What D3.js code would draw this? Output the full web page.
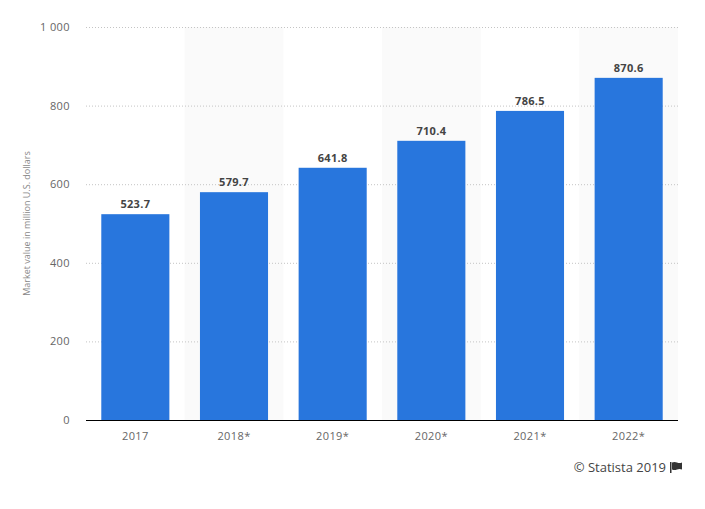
<!DOCTYPE html>
<html>
<head>
<meta charset="utf-8">
<script src="https://cdn.jsdelivr.net/npm/d3@7"></script>
<style>
  body { margin: 0; background: #fff; }
  svg { font-family: "Open Sans", "DejaVu Sans", sans-serif; }
</style>
</head>
<body>
<svg id="chart" width="705" height="509"></svg>
<script>
const years = ["2017", "2018*", "2019*", "2020*", "2021*", "2022*"]
const marketValues = [523.7, 579.7, 641.8, 710.4, 786.5, 870.6]
const yTicks = [0, 200, 400, 600, 800, 1000]

const LEFT = 86
const RIGHT = 678
const TOP = 27
const BOTTOM = 420

const svg = d3.select('svg#chart')

const xScale = d3.scaleBand()
  .domain(years)
  .range([LEFT, RIGHT])
  .paddingInner(0.31)
  .paddingOuter(0.155)

const bandScale = d3.scaleBand()
  .domain(years)
  .range([LEFT, RIGHT])

const yScale = d3.scaleLinear()
  .domain([0, 1000])
  .range([BOTTOM, TOP])

// alternating shaded columns
svg.append('g')
  .selectAll('rect')
  .data(years.filter((d, i) => i % 2 === 1))
  .enter()
  .append('rect')
  .attr('x', d => bandScale(d))
  .attr('y', TOP)
  .attr('width', bandScale.bandwidth())
  .attr('height', BOTTOM - TOP)
  .attr('fill', '#fafafa')

// gridlines
svg.append('g')
  .selectAll('line')
  .data(yTicks.filter(d => d > 0))
  .enter()
  .append('line')
  .attr('x1', LEFT)
  .attr('x2', RIGHT)
  .attr('y1', d => yScale(d) + 0.5)
  .attr('y2', d => yScale(d) + 0.5)
  .attr('stroke', '#c4c4c4')
  .attr('stroke-dasharray', '1,2')

// y tick labels
const fmt = d => d >= 1000 ? d3.format(',')(d).replace(',', ' ') : String(d)
svg.append('g')
  .selectAll('text')
  .data(yTicks)
  .enter()
  .append('text')
  .attr('x', 70)
  .attr('y', d => yScale(d) + 4)
  .attr('text-anchor', 'end')
  .attr('font-size', '11px')
  .attr('letter-spacing', '0.4px')
  .attr('fill', '#666')
  .text(fmt)

// bars
svg.append('g')
  .selectAll('rect')
  .data(marketValues)
  .enter()
  .append('rect')
  .attr('x', (d, i) => xScale(years[i]))
  .attr('y', d => yScale(d))
  .attr('width', xScale.bandwidth())
  .attr('height', d => BOTTOM - yScale(d))
  .attr('fill', '#2876dd')

// value labels
svg.append('g')
  .selectAll('text')
  .data(marketValues)
  .enter()
  .append('text')
  .attr('x', (d, i) => xScale(years[i]) + xScale.bandwidth() / 2)
  .attr('y', d => yScale(d) - 6)
  .attr('text-anchor', 'middle')
  .attr('font-size', '11px')
  .attr('font-weight', 'bold')
  .attr('letter-spacing', '0.3px')
  .attr('fill', '#444')
  .text(d => d.toFixed(1))

// baseline
svg.append('line')
  .attr('x1', LEFT)
  .attr('x2', RIGHT)
  .attr('y1', BOTTOM + 0.5)
  .attr('y2', BOTTOM + 0.5)
  .attr('stroke', '#000')
  .attr('stroke-width', 1)

// x tick labels
svg.append('g')
  .selectAll('text')
  .data(years)
  .enter()
  .append('text')
  .attr('x', d => xScale(d) + xScale.bandwidth() / 2)
  .attr('y', 440)
  .attr('text-anchor', 'middle')
  .attr('font-size', '11px')
  .attr('letter-spacing', '0.4px')
  .attr('fill', '#666')
  .text(d => d)

// y axis title
svg.append('text')
  .attr('transform', `translate(30, ${(TOP + BOTTOM) / 2}) rotate(-90)`)
  .attr('text-anchor', 'middle')
  .attr('font-size', '9px')
  .attr('fill', '#888')
  .text('Market value in million U.S. dollars')

// credit
svg.append('text')
  .attr('x', 666)
  .attr('y', 472)
  .attr('text-anchor', 'end')
  .attr('font-size', '13px')
  .attr('fill', '#444')
  .text('© Statista 2019')

const flag = svg.append('g').attr('transform', 'translate(670, 462)')
flag.append('rect').attr('x', 0).attr('y', 0).attr('width', 1.5).attr('height', 11).attr('fill', '#333')
flag.append('path').attr('d', 'M2,0.5 Q4.5,-0.5 7,0.5 T12,0.5 L12,7.5 Q9.5,6.5 7,7.5 T2,7.5 Z').attr('fill', '#333')
</script>
</body>
</html>
